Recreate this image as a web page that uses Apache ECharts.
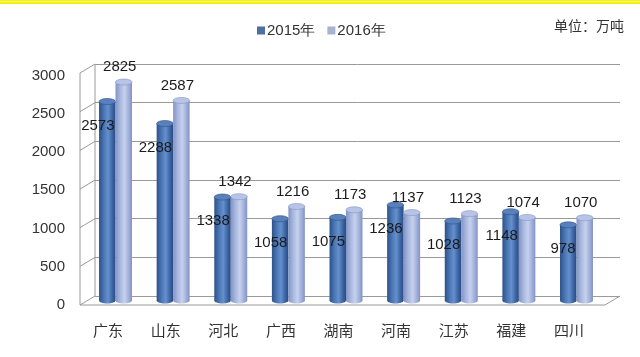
<!DOCTYPE html>
<html><head><meta charset="utf-8">
<script src="https://cdn.jsdelivr.net/npm/echarts@6/dist/echarts.min.js"></script>
<style>html,body{margin:0;padding:0;background:#fff}#c{width:640px;height:357px}</style>
</head><body><div id="c"></div>
<script>
const categories = ['广东','山东','河北','广西','湖南','河南','江苏','福建','四川'];
const values2015 = [2573,2288,1338,1058,1075,1236,1028,1148,978];
const values2016 = [2825,2587,1342,1216,1173,1137,1123,1074,1070];
const seriesNames = ['2015年','2016年'];
const yTicks = [0,500,1000,1500,2000,2500,3000];

const FONT_NUM = "'Liberation Sans', Arial, sans-serif";
const FONT_CJK = "'Noto Sans CJK SC', sans-serif";
const DX = -15, DY = 9; // 3D depth offset from back wall to front

const palettes = [
  {legend:'#4f6fa2', stops:['#2d5189','#4a77b6','#6690cc','#3d66a6','#284b82'], cap:'#5a80bc'},
  {legend:'#a7b3cf', stops:['#8394c4','#aab9e0','#c6d1ee','#a1b0da','#8193c3'], cap:'#b7c4e6'}
];

function cylinder(si){
  return function(params, api){
    const cat = api.value(0), v = api.value(1);
    const top = api.coord([cat, v]);
    const base = api.coord([cat, 0]);
    const band = api.size([1,0])[0];
    const w = band*0.286;
    const x = top[0] + (si===0 ? -w : 0);
    const p = palettes[si];
    const grad = new echarts.graphic.LinearGradient(0,0,1,0,[
      {offset:0,color:p.stops[0]},{offset:0.3,color:p.stops[1]},{offset:0.55,color:p.stops[2]},
      {offset:0.8,color:p.stops[3]},{offset:1,color:p.stops[4]}]);
    const ry = 3;
    const children = [
      {type:'ellipse', shape:{cx:x+w/2, cy:base[1], rx:w/2, ry:ry}, style:{fill:grad}},
      {type:'rect', shape:{x:x, y:top[1], width:w, height:base[1]-top[1]}, style:{fill:grad}},
      {type:'ellipse', shape:{cx:x+w/2, cy:top[1], rx:w/2, ry:ry}, style:{fill:p.cap, stroke:p.stops[0], lineWidth:0.6}}
    ];
    const label = String(api.value(1));
    if(si===0){
      children.push({type:'text', style:{text:label, x:x+w-1, y:top[1]+24, align:'right', verticalAlign:'middle',
        font:'15px '+FONT_NUM, fill:'#1b1b1b'}, z2:10});
    } else {
      children.push({type:'text', style:{text:label, x:x+w/2-4, y:top[1]-15, align:'center', verticalAlign:'middle',
        font:'15px '+FONT_NUM, fill:'#1b1b1b'}, z2:10});
    }
    return {type:'group', children:children};
  };
}

function wall(params, api){
  const v = api.value(0);
  const back = api.coord([0, v]);
  const lineStyle = {stroke:'#9a9a9a', lineWidth:1};
  const children = [];
  if(v===0){
    const bl = api.coord([0,0]), br = api.coord([1,0]), tl = api.coord([0,3000]);
    children.push({type:'polyline', shape:{points:[[br[0],br[1]],[br[0]+DX,br[1]+DY],[bl[0]+DX,bl[1]+DY],[bl[0],bl[1]]]}, style:Object.assign({fill:null},lineStyle)});
    children.push({type:'line', shape:{x1:bl[0]+DX,y1:bl[1]+DY,x2:tl[0]+DX,y2:tl[1]+DY}, style:lineStyle});
    children.push({type:'line', shape:{x1:bl[0],y1:bl[1],x2:tl[0],y2:tl[1]}, style:lineStyle});
  } else {
    children.push({type:'line', shape:{x1:back[0],y1:back[1],x2:back[0]+DX,y2:back[1]+DY}, style:lineStyle});
  }
  return {type:'group', children:children};
}

const chart = echarts.init(document.getElementById('c'));
chart.setOption({
  backgroundColor:'#ffffff',
  animation:false,
  graphic:[
    {type:'rect', shape:{x:0,y:0,width:640,height:4}, style:{fill:'#f3ef1c'}, z:100},
    {type:'rect', shape:{x:0,y:1,width:640,height:1}, style:{fill:'#fbf96a'}, z:101},
    {type:'text', right:16, top:19, style:{text:'单位：万吨', font:'14px '+FONT_CJK, fill:'#333'}}
  ],
  legend:{
    data:seriesNames, top:18, left:252, icon:'rect', itemWidth:8, itemHeight:8, itemGap:12,
    textStyle:{fontSize:15, fontFamily:FONT_NUM, color:'#333', padding:[0,0,0,-3]}
  },
  grid:[
    {left:86.7, right:34.7, top:68.5, bottom:56.5},
    {left:95, right:20, top:64, bottom:61},
    {left:80, right:35, top:75.7, bottom:52}
  ],
  xAxis:[
    {gridIndex:0, type:'category', data:categories, axisLine:{show:false}, axisTick:{show:false},
     axisLabel:{margin:22, fontSize:15, fontFamily:FONT_CJK, color:'#333', padding:[0,15,0,0]}},
    {gridIndex:1, type:'value', min:0, max:1, show:false},
    {gridIndex:2, type:'value', min:0, max:1, show:false}
  ],
  yAxis:[
    {gridIndex:0, type:'value', min:0, max:3000, interval:500, show:false},
    {gridIndex:1, type:'value', min:0, max:3000, interval:500, axisLabel:{show:false}, axisLine:{show:false}, axisTick:{show:false},
     splitLine:{lineStyle:{color:'#9a9a9a', width:1}}},
    {gridIndex:2, type:'value', min:0, max:3000, interval:500, axisLine:{show:false}, axisTick:{show:false}, splitLine:{show:false},
     axisLabel:{margin:15, fontSize:15, fontFamily:FONT_NUM, color:'#333', formatter:(v)=>String(v)}}
  ],
  series:[
    {type:'custom', name:'wall', xAxisIndex:1, yAxisIndex:1, data:yTicks.map(t=>[t]), renderItem:wall, silent:true, z:1,
     encode:{y:0}},
    {type:'custom', name:seriesNames[0], xAxisIndex:0, yAxisIndex:0, itemStyle:{color:palettes[0].legend},
     data:values2015.map((v,i)=>[i,v]), renderItem:cylinder(0), z:3},
    {type:'custom', name:seriesNames[1], xAxisIndex:0, yAxisIndex:0, itemStyle:{color:palettes[1].legend},
     data:values2016.map((v,i)=>[i,v]), renderItem:cylinder(1), z:3}
  ]
});
</script></body></html>
